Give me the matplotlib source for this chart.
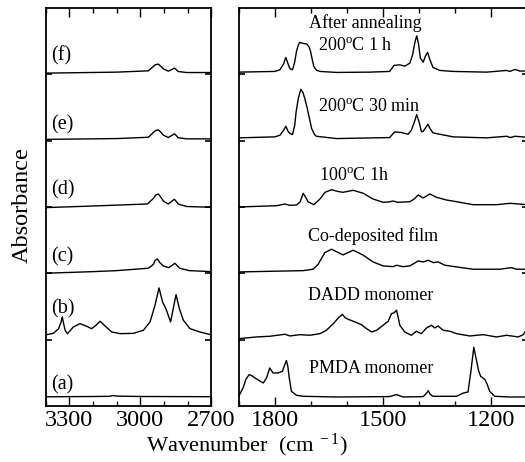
import matplotlib
matplotlib.use("Agg")
import matplotlib.pyplot as plt
from matplotlib.ticker import MultipleLocator, FixedLocator

plt.rcParams['font.family'] = ['Liberation Serif', 'DejaVu Serif']
plt.rcParams['mathtext.fontset'] = 'custom'
plt.rcParams['mathtext.rm'] = 'Liberation Serif'
plt.rcParams['mathtext.it'] = 'Liberation Serif:italic'
plt.rcParams['mathtext.bf'] = 'Liberation Serif:bold'

# ---------------- data (absorbance, arbitrary units) ----------------
BAND = 66.4  # height of one stacked band in absorbance units

# Left panel (C-H stretching region), stacked (a)..(f)
L_A_WN = [3400, 3200, 3130, 3115, 3100, 3000, 2700]
L_A_AB = [9.5, 9.8, 10.0, 10.8, 10.2, 9.8, 9.6]

L_B_WN = [3400, 3368, 3346, 3336, 3330, 3324, 3318, 3308, 3283, 3255, 3227, 3206,
          3190, 3170, 3149, 3121, 3086, 3030, 2987, 2959, 2938, 2921, 2906, 2892,
          2872, 2861, 2849, 2835, 2818, 2790, 2748, 2700]
L_B_AB = [5.0, 6.5, 11.0, 17.0, 22.9, 16.0, 9.6, 6.2, 12.9, 16.2, 13.6, 11.2,
          14.0, 18.6, 13.9, 7.9, 6.2, 6.5, 9.6, 17.9, 34.6, 51.9, 37.9, 31.2,
          17.9, 31.2, 45.2, 31.2, 19.6, 11.2, 7.9, 5.0]

L_C_WN = [3400, 3200, 3100, 2966, 2945, 2938, 2928, 2918, 2903, 2880, 2866, 2854,
          2845, 2834, 2793, 2700]
L_C_AB = [0.2, 1.8, 2.8, 5.2, 9.0, 13.0, 14.5, 11.0, 7.5, 5.8, 8.0, 10.2,
          8.0, 5.2, 2.8, 1.8]

L_D_WN = [3400, 3200, 2970, 2945, 2935, 2924, 2914, 2903, 2882, 2868, 2856, 2848,
          2840, 2804, 2700]
L_D_AB = [-0.6, 1.0, 3.0, 8.5, 12.0, 13.0, 10.0, 6.0, 3.0, 5.5, 7.7, 5.5,
          3.0, 0.5, -0.3]

L_E_WN = [3400, 3100, 2966, 2945, 2935, 2924, 2914, 2903, 2882, 2868, 2856, 2848,
          2840, 2804, 2700]
L_E_AB = [1.2, 2.0, 3.3, 8.0, 10.0, 10.7, 8.5, 5.5, 3.0, 5.0, 6.7, 5.0,
          2.8, 1.7, 1.7]

L_F_WN = [3400, 3100, 2966, 2945, 2935, 2924, 2914, 2903, 2882, 2868, 2856, 2848,
          2840, 2804, 2700]
L_F_AB = [1.0, 2.0, 3.3, 7.7, 9.5, 10.0, 8.0, 5.3, 3.0, 4.5, 6.0, 4.5,
          2.6, 1.6, 1.6]

# Right panel (fingerprint region)
PMDA_WN = [1900, 1888, 1880, 1871, 1863, 1855, 1832, 1823, 1814, 1805, 1791, 1779,
           1772, 1768, 1764, 1760, 1754, 1740, 1721, 1629, 1482, 1463, 1445, 1389,
           1380, 1375, 1370, 1362, 1297, 1278, 1265, 1257, 1249, 1245, 1241, 1236,
           1230, 1218, 1212, 1205, 1191, 1150, 1100]
PMDA_AB = [10.0, 18.3, 27.0, 31.7, 30.5, 28.3, 23.3, 28.3, 38.3, 33.3, 33.3, 35.0,
           42.0, 45.7, 40.0, 28.3, 15.0, 11.0, 10.0, 9.3, 9.7, 11.7, 9.3, 9.7,
           13.0, 15.7, 12.0, 10.0, 10.0, 13.3, 14.3, 35.0, 59.0, 52.0, 45.0, 36.0,
           30.0, 26.7, 22.0, 15.0, 10.0, 9.3, 9.3]

DADD_WN = [1900, 1851, 1814, 1772, 1758, 1731, 1703, 1675, 1657, 1638, 1624, 1613,
           1605, 1597, 1578, 1560, 1546, 1532, 1518, 1500, 1486, 1477, 1470, 1463,
           1458, 1454, 1440, 1422, 1408, 1394, 1380, 1366, 1357, 1348, 1334, 1315,
           1297, 1260, 1223, 1186, 1158, 1126, 1112, 1100]
DADD_AB = [1.2, 2.9, 3.6, 5.6, 3.9, 5.2, 4.6, 6.2, 9.6, 16.2, 22.0, 25.6,
           22.0, 20.6, 17.9, 15.2, 11.2, 7.9, 9.6, 14.6, 18.6, 26.2, 27.0, 29.6,
           22.0, 14.6, 7.9, 4.6, 8.6, 6.2, 11.9, 14.6, 11.9, 13.9, 9.6, 8.6,
           6.2, 3.9, 5.2, 2.9, 4.6, 2.9, 5.2, 12.0]

CODEP_WN = [1900, 1721.5, 1694, 1680, 1661.5, 1643, 1625, 1611, 1583, 1555, 1528,
            1500, 1472, 1463, 1445, 1426, 1403, 1389, 1375, 1361, 1348, 1329, 1297,
            1251, 1177, 1145, 1130, 1100]
CODEP_AB = [1.5, 2.8, 4.2, 9.2, 20.8, 24.2, 21.0, 18.5, 23.2, 18.2, 11.5,
            7.5, 6.8, 8.2, 6.8, 7.5, 12.5, 11.5, 13.2, 10.8, 11.5, 8.2, 6.5,
            4.2, 4.2, 5.8, 4.2, 4.2]

H100_WN = [1900, 1795, 1772, 1759, 1740, 1730, 1721.5, 1715, 1708, 1692, 1675, 1661,
           1643, 1625, 1611, 1583, 1555, 1528, 1500, 1485, 1472, 1460, 1426, 1414,
           1403, 1389, 1380, 1371, 1352, 1325, 1297, 1251, 1186, 1149, 1100]
H100_AB = [0.0, 1.3, 3.0, 1.7, 2.0, 5.0, 13.7, 10.0, 5.3, 2.3, 8.0, 14.7,
           17.3, 15.5, 14.7, 16.7, 13.7, 8.0, 4.7, 5.0, 6.0, 4.7, 5.3, 8.0,
           12.0, 9.0, 11.0, 13.0, 9.7, 7.0, 5.3, 2.3, 2.3, 3.7, 2.3]

AN30_WN = [1900, 1800, 1786, 1776, 1769.5, 1763, 1758, 1751, 1745, 1741, 1735, 1728,
           1722, 1717, 1710, 1704, 1698, 1690, 1685, 1629, 1482, 1468, 1449, 1431,
           1422, 1414, 1407, 1400, 1394, 1389, 1382, 1376, 1370, 1362, 1343, 1306,
           1214, 1158, 1147, 1135, 1100]
AN30_AB = [2.7, 3.7, 5.3, 10.0, 14.3, 9.0, 7.0, 6.0, 15.0, 28.7, 42.0, 51.3,
           48.0, 42.0, 32.0, 22.0, 12.0, 6.0, 4.3, 2.0, 3.0, 8.7, 8.0, 6.3,
           10.3, 18.0, 26.0, 18.0, 8.7, 9.3, 13.0, 16.3, 12.0, 7.7, 6.3, 3.7,
           2.7, 4.3, 3.0, 4.3, 3.3]

AN1H_WN = [1900, 1800, 1786, 1776, 1769.5, 1763, 1758, 1751, 1745, 1740, 1735, 1731,
           1721, 1711, 1705, 1701, 1696, 1692, 1685, 1675, 1629, 1537, 1482, 1470,
           1454, 1440, 1426, 1418, 1412, 1407, 1402, 1397, 1389, 1383, 1377, 1370,
           1362, 1343, 1306, 1214, 1158, 1149, 1135, 1121, 1100]
AN1H_AB = [2.0, 2.7, 4.3, 10.0, 16.7, 10.0, 5.3, 4.3, 12.0, 22.7, 29.0, 31.7,
           30.7, 30.0, 27.0, 22.7, 14.0, 7.7, 4.0, 2.7, 1.7, 2.0, 2.7, 8.7,
           9.3, 8.0, 11.0, 20.0, 32.0, 38.3, 30.0, 16.0, 12.0, 18.0, 21.7, 14.0,
           6.7, 3.7, 2.7, 2.0, 3.7, 2.7, 4.7, 3.0, 3.3]

LEFT_SERIES = [(L_A_WN, L_A_AB), (L_B_WN, L_B_AB), (L_C_WN, L_C_AB),
               (L_D_WN, L_D_AB), (L_E_WN, L_E_AB), (L_F_WN, L_F_AB)]
RIGHT_SERIES = [(PMDA_WN, PMDA_AB), (DADD_WN, DADD_AB), (CODEP_WN, CODEP_AB),
                (H100_WN, H100_AB), (AN30_WN, AN30_AB), (AN1H_WN, AN1H_AB)]

LEFT_LABELS = ['(a)', '(b)', '(c)', '(d)', '(e)', '(f)']
RIGHT_LABELS = ['PMDA monomer', 'DADD monomer', 'Co-deposited film',
                '100$^{\\rm o}$C 1h', '200$^{\\rm o}$C 30 min', '200$^{\\rm o}$C 1 h']
TOP_NOTE = 'After annealing'

LEFT_TICKS = [3300, 3000, 2700]
RIGHT_TICKS = [1800, 1500, 1200]

# ---------------- figure ----------------
W, H = 525, 462
fig = plt.figure(figsize=(W / 100, H / 100), dpi=100)
bottom = 55.7 / H
height = 398.6 / H
axL = fig.add_axes([45.7 / W, bottom, 165.6 / W, height])
axR = fig.add_axes([238.7 / W, bottom, 288.9 / W, height])

for ax, series, xlim, ticks in [(axL, LEFT_SERIES, (3400, 2700), LEFT_TICKS),
                                (axR, RIGHT_SERIES, (1900, 1100), RIGHT_TICKS)]:
    for k, (wn, ab) in enumerate(series):
        ax.plot(wn, [v + k * BAND for v in ab], color='black', lw=1.0,
                solid_joinstyle='round')
    ax.set_xlim(*xlim)
    ax.set_ylim(0, 6 * BAND)
    ax.xaxis.set_major_locator(FixedLocator(ticks))
    ax.xaxis.set_minor_locator(MultipleLocator(100))
    ax.set_yticks([k * BAND for k in range(1, 6)])
    ax.set_yticklabels([])
    ax.tick_params(axis='x', which='major', direction='in', top=True, bottom=True,
                   length=6.5, width=1.0, labelsize=17.5, pad=2.5)
    ax.tick_params(axis='x', which='minor', direction='in', top=True, bottom=True,
                   length=3.8, width=1.0)
    ax.tick_params(axis='y', which='major', direction='in', left=True, right=True,
                   length=4.5, width=1.2)
    for sp in ax.spines.values():
        sp.set_linewidth(1.3)

# left panel labels
label_y = [0.32, 1.47, 2.25, 3.26, 4.24, 5.27]
for lab, yy in zip(LEFT_LABELS, label_y):
    axL.text(3375, yy * BAND, lab, fontsize=14.5, ha='left', va='center')

# right panel annotations
note_pos = [(1706, 0.50), (1709, 1.60), (1709, 2.49), (1678, 3.40), (1681, 4.44), (1681, 5.37)]
for lab, (xx, yy) in zip(RIGHT_LABELS, note_pos):
    axR.text(xx, yy * BAND, lab, fontsize=13, ha='left', va='baseline')
axR.text(1706, 5.70 * BAND, TOP_NOTE, fontsize=13, ha='left', va='baseline')

fig.text(22 / W, 1 - 205 / H, 'Absorbance', rotation=90, fontsize=17.5,
         ha='center', va='center')
fig.text(246.5 / W, 1 - 451 / H, 'Wavenumber  (cm$^{\\ -1}$)', fontsize=16.2,
         ha='center', va='baseline')

fig.savefig('out.png', dpi=100)
